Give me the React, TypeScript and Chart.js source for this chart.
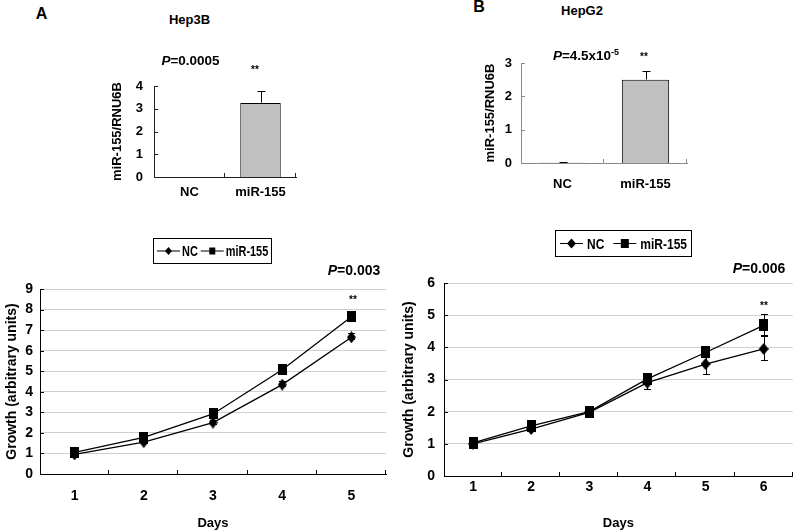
import React, { useEffect, useRef } from "react";
import { Chart, registerables } from "chart.js";
Chart.register(...registerables);

const FONT = "'Liberation Sans', Arial, sans-serif";

// ---------- data ----------
const barCategories = ["NC", "miR-155"];
const hep3bLevels = [0, 3.25];
const hep3bLevelErr = [0, 0.5];
const hepg2Levels = [0.005, 2.5];
const hepg2LevelErr = [0.005, 0.22];
const hep3bLevelMax = 4;
const hepg2LevelMax = 3;

const seriesNames = ["NC", "miR-155"];

const hep3bDays = ["1", "2", "3", "4", "5"];
const hep3bNC = [0.95, 1.55, 2.5, 4.35, 6.65];
const hep3bNCErr = [0.05, 0.08, 0.1, 0.12, 0.15];
const hep3bMiR = [1.05, 1.78, 2.92, 5.07, 7.65];
const hep3bMiRErr = [0.05, 0.08, 0.1, 0.12, 0.15];
const hep3bGrowthMax = 9;

const hepg2Days = ["1", "2", "3", "4", "5", "6"];
const hepg2NC = [1.0, 1.46, 1.98, 2.9, 3.48, 3.95];
const hepg2NCErr = [0.05, 0.08, 0.06, 0.22, 0.34, 0.38];
const hepg2MiR = [1.03, 1.56, 2.0, 3.02, 3.84, 4.68];
const hepg2MiRErr = [0.05, 0.06, 0.06, 0.12, 0.1, 0.33];
const hepg2GrowthMax = 6;

// ---------- helpers ----------
const bold = (size: number, family: string = FONT) => ({ family, size, weight: "bold" as const });

function makeMarker(shape: string, w: number, h: number) {
  const c = document.createElement("canvas");
  c.width = w;
  c.height = h;
  const g = c.getContext("2d")!;
  g.fillStyle = "#000";
  if (shape === "square") g.fillRect(0, 0, w, h);
  else {
    g.beginPath();
    g.moveTo(w / 2, 0);
    g.lineTo(w, h / 2);
    g.lineTo(w / 2, h);
    g.lineTo(0, h / 2);
    g.closePath();
    g.fill();
  }
  return c;
}

function drawMarker(ctx: CanvasRenderingContext2D, shape: string, x: number, y: number, w: number, h: number) {
  ctx.beginPath();
  if (shape === "square") {
    ctx.rect(x - w / 2, y - h / 2, w, h);
  } else {
    ctx.moveTo(x, y - h / 2);
    ctx.lineTo(x + w / 2, y);
    ctx.lineTo(x, y + h / 2);
    ctx.lineTo(x - w / 2, y);
    ctx.closePath();
  }
  ctx.fill();
}

const errorBarsPlugin = {
  id: "errorBars",
  afterDatasetsDraw(chart: any, _args: any, opts: any) {
    const { ctx } = chart;
    const ys = chart.scales.y;
    chart.data.datasets.forEach((ds: any, i: number) => {
      if (!ds.errors) return;
      const meta = chart.getDatasetMeta(i);
      ctx.save();
      ctx.strokeStyle = "#000";
      ctx.lineWidth = 1;
      meta.data.forEach((el: any, j: number) => {
        const v = ds.data[j];
        const e = ds.errors[j];
        if (!e) return;
        const x = Math.round(el.x) + 0.5;
        const top = Math.round(ys.getPixelForValue(v + e)) - 0.5;
        const bot = Math.round(ys.getPixelForValue(opts.upperOnly ? v : v - e)) - 0.5;
        const c = opts.cap / 2;
        ctx.beginPath();
        ctx.moveTo(x, top);
        ctx.lineTo(x, bot);
        ctx.moveTo(x - c, top);
        ctx.lineTo(x + c, top);
        if (!opts.upperOnly) {
          ctx.moveTo(x - c, bot);
          ctx.lineTo(x + c, bot);
        }
        ctx.stroke();
      });
      ctx.restore();
    });
  },
};

const insideTicksPlugin = {
  id: "insideTicks",
  afterDraw(chart: any, _args: any, opts: any) {
    const { ctx, chartArea } = chart;
    const xs = chart.scales.x;
    const ys = chart.scales.y;
    ctx.save();
    ctx.strokeStyle = opts.color;
    ctx.lineWidth = 1;
    ctx.beginPath();
    ys.ticks.forEach((t: any) => {
      const py = Math.round(ys.getPixelForValue(t.value)) + 0.5;
      ctx.moveTo(chartArea.left, py);
      ctx.lineTo(chartArea.left + opts.len, py);
    });
    const n = xs.getLabels().length;
    for (let i = 1; i <= n; i++) {
      const px =
        i < n ? (xs.getPixelForValue(i - 1) + xs.getPixelForValue(i)) / 2 : chartArea.right;
      const rx = Math.round(px) - 0.5;
      ctx.moveTo(rx, chartArea.bottom);
      ctx.lineTo(rx, chartArea.bottom - opts.len);
    }
    ctx.stroke();
    ctx.restore();
  },
};

const boxLegendPlugin = {
  id: "boxLegend",
  afterDraw(chart: any, _args: any, opts: any) {
    if (!opts || !opts.show) return;
    const { ctx } = chart;
    ctx.save();
    ctx.font = `bold ${opts.size}px ${FONT}`;
    const sx = opts.stretch;
    const items = chart.data.datasets.map((ds: any) => ({ label: ds.label, shape: ds.legendShape }));
    let w = opts.padL;
    items.forEach((it: any, i: number) => {
      w += opts.line + opts.gap + ctx.measureText(it.label).width * sx + (i < items.length - 1 ? opts.between : opts.padR);
    });
    const h = opts.height;
    ctx.strokeStyle = "#000";
    ctx.fillStyle = "#000";
    ctx.lineWidth = 1;
    ctx.strokeRect(opts.x + 0.5, opts.y + 0.5, Math.round(w), h);
    let cx = opts.x + opts.padL;
    const cy = opts.y + h / 2 + 0.5;
    items.forEach((it: any) => {
      ctx.beginPath();
      ctx.moveTo(cx, cy);
      ctx.lineTo(cx + opts.line, cy);
      ctx.stroke();
      const m = it.shape === "square" ? opts.square : opts.diamond;
      drawMarker(ctx, it.shape, cx + opts.line / 2, cy, m[0], m[1]);
      cx += opts.line + opts.gap;
      ctx.save();
      ctx.translate(cx, cy + 1);
      ctx.scale(sx, 1);
      ctx.textBaseline = "middle";
      ctx.textAlign = "left";
      ctx.fillText(it.label, 0, 0);
      ctx.restore();
      cx += ctx.measureText(it.label).width * sx + opts.between;
    });
    ctx.restore();
  },
};

function barConfig(p: any) {
  return {
    type: "bar",
    data: {
      labels: barCategories,
      datasets: [
        {
          data: p.levels,
          errors: p.errors,
          backgroundColor: "#c0c0c0",
          borderColor: "#000",
          borderWidth: 1,
          borderSkipped: "start",
          barPercentage: 0.57,
          categoryPercentage: 1,
        },
      ],
    },
    plugins: [errorBarsPlugin, insideTicksPlugin],
    options: {
      animation: false,
      responsive: false,
      events: [],
      layout: { padding: { top: p.padTop, right: p.padRight, left: 0, bottom: 0 } },
      plugins: {
        legend: { display: false },
        tooltip: { enabled: false },
        errorBars: { cap: 8, upperOnly: true },
        insideTicks: { len: 4, color: p.axisColor },
      },
      scales: {
        x: {
          grid: { display: false, drawTicks: false },
          border: { color: p.axisColor, width: 1 },
          ticks: { font: bold(13), color: "#000", padding: p.xTickPad },
          afterFit: (s: any) => {
            s.height = p.xHeight;
          },
        },
        y: {
          min: 0,
          max: p.yMax,
          grid: { display: false, drawTicks: false },
          border: { color: p.axisColor, width: 1 },
          ticks: { stepSize: 1, font: bold(13), color: "#000", padding: p.yTickPad },
          title: {
            display: true,
            text: "miR-155/RNU6B",
            font: bold(13),
            color: "#000",
            padding: { top: p.titlePad, bottom: 0 },
          },
          afterFit: (s: any) => {
            s.width = p.yWidth;
          },
        },
      },
    },
  };
}

function lineConfig(p: any) {
  const diamond = makeMarker("diamond", p.diamond[0], p.diamond[1]);
  const square = makeMarker("square", p.square[0], p.square[1]);
  return {
    type: "line",
    data: {
      labels: p.days,
      datasets: [
        {
          label: seriesNames[0],
          legendShape: "diamond",
          data: p.nc,
          errors: p.ncErr,
          borderColor: "#000",
          borderWidth: 1.3,
          pointStyle: diamond,
          pointRadius: 6,
          tension: 0,
        },
        {
          label: seriesNames[1],
          legendShape: "square",
          data: p.mir,
          errors: p.mirErr,
          borderColor: "#000",
          borderWidth: 1.3,
          pointStyle: square,
          pointRadius: 6,
          tension: 0,
        },
      ],
    },
    plugins: [errorBarsPlugin, insideTicksPlugin, boxLegendPlugin],
    options: {
      animation: false,
      responsive: false,
      events: [],
      layout: { padding: { top: p.padTop, right: p.padRight, left: 0, bottom: 0 } },
      plugins: {
        legend: { display: false },
        tooltip: { enabled: false },
        errorBars: { cap: 7, upperOnly: false },
        insideTicks: { len: 4, color: "#000" },
        boxLegend: p.legend,
      },
      scales: {
        x: {
          offset: true,
          grid: { display: false, drawTicks: false },
          border: { color: "#000", width: 1 },
          ticks: { font: bold(14), color: "#000", padding: p.xTickPad },
          title: { display: true, text: "Days", font: bold(13), color: "#000", padding: { top: 0, bottom: 1 } },
          afterFit: (s: any) => {
            s.height = p.xHeight;
          },
        },
        y: {
          min: 0,
          max: p.yMax,
          grid: { display: true, drawTicks: false, color: "#cfcfcf", lineWidth: 1 },
          border: { color: "#000", width: 1 },
          ticks: { stepSize: 1, font: bold(14), color: "#000", padding: p.yTickPad },
          title: {
            display: true,
            text: "Growth (arbitrary units)",
            font: bold(14),
            color: "#000",
            padding: { top: p.titlePad, bottom: 0 },
          },
          afterFit: (s: any) => {
            s.width = p.yWidth;
          },
        },
      },
    },
  };
}

function ChartCanvas(props: { left: number; top: number; width: number; height: number; make: () => any }) {
  const ref = useRef<HTMLCanvasElement>(null);
  useEffect(() => {
    const chart = new Chart(ref.current as HTMLCanvasElement, props.make());
    return () => chart.destroy();
  }, []);
  return (
    <canvas
      ref={ref}
      width={props.width}
      height={props.height}
      style={{ position: "absolute", left: props.left, top: props.top, width: props.width, height: props.height }}
    />
  );
}

function Label(props: { x: number; y: number; size: number; children: any }) {
  return (
    <div
      style={{
        position: "absolute",
        left: props.x,
        top: props.y,
        transform: "translate(-50%, -50%)",
        fontSize: props.size,
        fontWeight: "bold",
        fontFamily: FONT,
        lineHeight: 1,
        whiteSpace: "nowrap",
        color: "#000",
      }}
    >
      {props.children}
    </div>
  );
}

const It = (props: { children: any }) => <span style={{ fontStyle: "italic" }}>{props.children}</span>;

export default function App() {
  return (
    <div
      style={{
        position: "fixed",
        left: 0,
        top: 0,
        width: 800,
        height: 532,
        background: "#fff",
        overflow: "hidden",
      }}
    >
      <ChartCanvas
        left={100}
        top={30}
        width={210}
        height={175}
        make={() =>
          barConfig({
            levels: hep3bLevels,
            errors: hep3bLevelErr,
            yMax: hep3bLevelMax,
            axisColor: "#222",
            padTop: 56,
            padRight: 14,
            yWidth: 54,
            xHeight: 28,
            yTickPad: 11,
            xTickPad: 8,
            titlePad: 10,
          })
        }
      />
      <ChartCanvas
        left={460}
        top={30}
        width={240}
        height={175}
        make={() =>
          barConfig({
            levels: hepg2Levels,
            errors: hepg2LevelErr,
            yMax: hepg2LevelMax,
            axisColor: "#8a8a8a",
            padTop: 33,
            padRight: 13,
            yWidth: 61,
            xHeight: 42,
            yTickPad: 9,
            xTickPad: 14,
            titlePad: 23,
          })
        }
      />
      <ChartCanvas
        left={0}
        top={230}
        width={400}
        height={302}
        make={() =>
          lineConfig({
            days: hep3bDays,
            nc: hep3bNC,
            ncErr: hep3bNCErr,
            mir: hep3bMiR,
            mirErr: hep3bMiRErr,
            yMax: hep3bGrowthMax,
            diamond: [9, 12],
            square: [9, 11],
            padTop: 59,
            padRight: 14,
            yWidth: 40,
            xHeight: 58,
            yTickPad: 7,
            xTickPad: 14,
            titlePad: 4,
            legend: {
              show: true, x: 153, y: 8, height: 25, size: 14, stretch: 0.78,
              padL: 4, padR: 3, line: 23, gap: 2, between: 3, diamond: [7, 8], square: [6, 7],
            },
          })
        }
      />
      <ChartCanvas
        left={400}
        top={220}
        width={400}
        height={312}
        make={() =>
          lineConfig({
            days: hepg2Days,
            nc: hepg2NC,
            ncErr: hepg2NCErr,
            mir: hepg2MiR,
            mirErr: hepg2MiRErr,
            yMax: hepg2GrowthMax,
            diamond: [10, 12],
            square: [9, 12],
            padTop: 63,
            padRight: 1,
            yWidth: 44,
            xHeight: 56,
            yTickPad: 9,
            xTickPad: 3,
            titlePad: 1,
            legend: {
              show: true, x: 155, y: 10, height: 26, size: 15, stretch: 0.8,
              padL: 5, padR: 4, line: 23, gap: 4, between: 9, diamond: [9, 10], square: [8, 9],
            },
          })
        }
      />

      <Label x={41.5} y={14} size={16}>A</Label>
      <Label x={189.5} y={18.5} size={13}>Hep3B</Label>
      <Label x={190.5} y={61} size={13.5}>
        <It>P</It>=0.0005
      </Label>
      <Label x={255} y={70} size={10}>**</Label>

      <Label x={479} y={7} size={16}>B</Label>
      <Label x={582} y={10} size={13}>HepG2</Label>
      <Label x={586} y={55} size={13.5}>
        <It>P</It>=4.5x10<sup style={{ fontSize: 9, verticalAlign: "5px" }}>-5</sup>
      </Label>
      <Label x={644} y={57} size={10}>**</Label>

      <Label x={354} y={269.5} size={14}>
        <It>P</It>=0.003
      </Label>
      <Label x={353} y={300} size={10}>**</Label>

      <Label x={759} y={268} size={14}>
        <It>P</It>=0.006
      </Label>
      <Label x={764} y={306} size={10}>**</Label>
    </div>
  );
}
